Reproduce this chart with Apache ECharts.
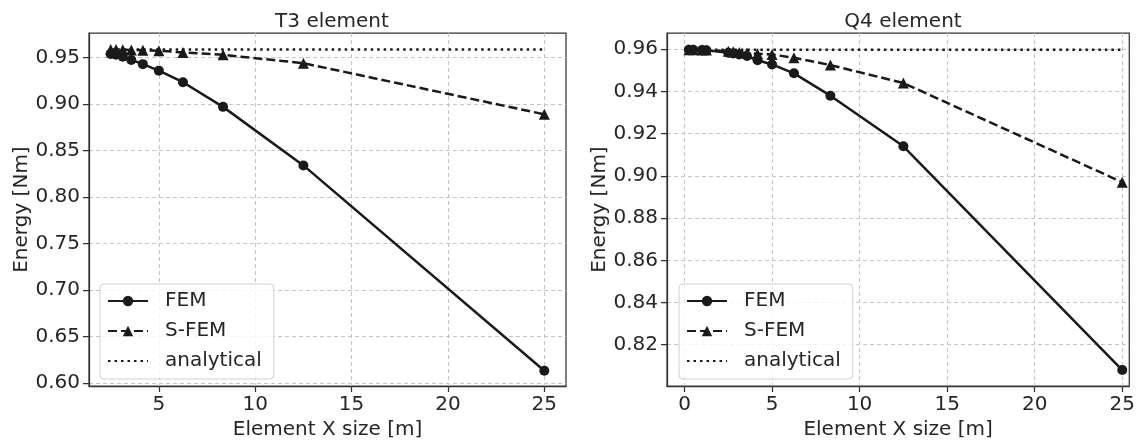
<!DOCTYPE html>
<html>
<head>
<meta charset="utf-8">
<title>Energy vs element size</title>
<script src="https://cdn.jsdelivr.net/npm/echarts@6/dist/echarts.min.js"></script>
<style>
  html, body { margin: 0; padding: 0; background: #fff; }
  #chart { width: 1138px; height: 445px; }
</style>
</head>
<body>
<div id="chart"></div>
<script>
// element sizes [m]
var t3Size = [2.5, 2.78, 3.125, 3.57, 4.17, 5, 6.25, 8.33, 12.5, 25];
var t3Fem = [0.954, 0.953, 0.951, 0.9475, 0.943, 0.936, 0.9235, 0.897, 0.834, 0.613];
var t3Sfem = [0.9588, 0.9587, 0.9585, 0.9582, 0.958, 0.9575, 0.9556, 0.953, 0.944, 0.889];
var t3AnalyticalSize = [2.5, 25];
var t3Analytical = [0.9588, 0.9588];

var q4Size = [0.25, 0.5, 1, 1.25, 2.5, 2.78, 3.125, 3.57, 4.17, 5, 6.25, 8.33, 12.5, 25];
var q4Fem = [0.9598, 0.9598, 0.9596, 0.9595, 0.9583, 0.958, 0.9575, 0.9568, 0.9548, 0.9528, 0.9486, 0.938, 0.914, 0.808];
var q4Sfem = [0.9598, 0.9598, 0.9597, 0.9596, 0.959, 0.9588, 0.9585, 0.9582, 0.9579, 0.9575, 0.956, 0.9525, 0.944, 0.897];
var q4AnalyticalSize = [0.25, 25];
var q4Analytical = [0.9598, 0.9598];

var t3XTicks = [5, 10, 15, 20, 25];
var t3YTicks = [0.6, 0.65, 0.7, 0.75, 0.8, 0.85, 0.9, 0.95];
var q4XTicks = [0, 5, 10, 15, 20, 25];
var q4YTicks = [0.82, 0.84, 0.86, 0.88, 0.9, 0.92, 0.94, 0.96];

function pairs(xs, ys) {
  return xs.map(function (x, i) { return [x, ys[i]]; });
}

var textColor = "#262626";
var spineColor = "#333";
var font = "DejaVu Sans";

function xAxisOf(grid, min, max, ticks) {
  return {
    type: "value",
    gridIndex: grid,
    min: min,
    max: max,
    name: "Element X size [m]",
    nameLocation: "middle",
    nameGap: 33,
    nameTextStyle: { color: textColor, fontSize: 20, fontFamily: font },
    axisLine: { show: true, onZero: false, lineStyle: { color: spineColor, width: 1.25 } },
    axisTick: { show: true, length: 6, customValues: ticks, lineStyle: { color: spineColor, width: 1.25 } },
    axisLabel: {
      customValues: ticks,
      color: textColor, fontSize: 20, fontFamily: font, margin: 9,
      formatter: function (v) { return String(v); },
    },
    splitLine: { show: true, lineStyle: { color: "#c4c4c4", type: [4, 3], width: 1 } },
  };
}

function yAxisOf(grid, min, max, ticks) {
  return {
    type: "value",
    gridIndex: grid,
    min: min,
    max: max,
    name: "Energy [Nm]",
    nameLocation: "middle",
    nameGap: 57,
    nameTextStyle: { color: textColor, fontSize: 20, fontFamily: font },
    axisLine: { show: true, onZero: false, lineStyle: { color: spineColor, width: 1.25 } },
    axisTick: { show: true, length: 6, customValues: ticks, lineStyle: { color: spineColor, width: 1.25 } },
    axisLabel: {
      customValues: ticks,
      color: textColor, fontSize: 20, fontFamily: font, margin: 9,
      formatter: function (v) { return v.toFixed(2); },
    },
    splitLine: { show: true, lineStyle: { color: "#c4c4c4", type: [4, 3], width: 1 } },
  };
}

function seriesOf(grid, size, fem, sfem, aSize, an) {
  return [
    {
      name: "FEM", type: "line", xAxisIndex: grid, yAxisIndex: grid,
      data: pairs(size, fem),
      symbol: "circle", symbolSize: 10, showAllSymbol: true,
      lineStyle: { color: "#1a1a1a", width: 2.5 },
      itemStyle: { color: "#1a1a1a" },
      animation: false,
    },
    {
      name: "S-FEM", type: "line", xAxisIndex: grid, yAxisIndex: grid,
      data: pairs(size, sfem),
      symbol: "triangle", symbolSize: 11, showAllSymbol: true,
      lineStyle: { color: "#1a1a1a", width: 2.5, type: [9, 4] },
      itemStyle: { color: "#1a1a1a" },
      animation: false,
    },
    {
      name: "analytical", type: "line", xAxisIndex: grid, yAxisIndex: grid,
      data: pairs(aSize, an),
      symbol: "none",
      lineStyle: { color: "#1a1a1a", width: 2.5, type: [2.5, 4] },
      itemStyle: { color: "#1a1a1a" },
      animation: false,
    },
  ];
}

function legendOf(left) {
  return {
    orient: "vertical",
    left: left,
    top: 284,
    data: [
      { name: "FEM" },
      { name: "S-FEM" },
      { name: "analytical", itemStyle: { opacity: 0 } },
    ],
    itemWidth: 40,
    itemHeight: 13,
    itemGap: 10,
    padding: [7, 12, 8, 7],
    backgroundColor: "rgba(255,255,255,0.8)",
    borderColor: "#d0d0d0",
    borderWidth: 1,
    borderRadius: 4,
    selectedMode: false,
    textStyle: { color: textColor, fontSize: 20, fontFamily: font, padding: [0, 0, 0, 12] },
  };
}

var myChart = echarts.init(document.getElementById("chart"), null, { renderer: "canvas" });
var option = {
  backgroundColor: "#fff",
  animation: false,
  title: [
    {
      text: "T3 element", left: 327, top: 7, textAlign: "center",
      textStyle: { color: textColor, fontSize: 20, fontWeight: "normal", fontFamily: font },
    },
    {
      text: "Q4 element", left: 898, top: 7, textAlign: "center",
      textStyle: { color: textColor, fontSize: 20, fontWeight: "normal", fontFamily: font },
    },
  ],
  grid: [
    { left: 89, right: 572, top: 33, bottom: 58, show: true, borderColor: spineColor, borderWidth: 1.25 },
    { left: 667, right: 8, top: 33, bottom: 58, show: true, borderColor: spineColor, borderWidth: 1.25 },
  ],
  legend: [legendOf(100), legendOf(679)],
  xAxis: [xAxisOf(0, 1.375, 26.125, t3XTicks), xAxisOf(1, -1.0, 25.4, q4XTicks)],
  yAxis: [yAxisOf(0, 0.5965, 0.9765, t3YTicks), yAxisOf(1, 0.8004, 0.9677, q4YTicks)],
  series: seriesOf(0, t3Size, t3Fem, t3Sfem, t3AnalyticalSize, t3Analytical)
    .concat(seriesOf(1, q4Size, q4Fem, q4Sfem, q4AnalyticalSize, q4Analytical)),
};

option && myChart.setOption(option);
window.addEventListener("resize", function () {
  myChart.resize();
});
</script>
</body>
</html>
